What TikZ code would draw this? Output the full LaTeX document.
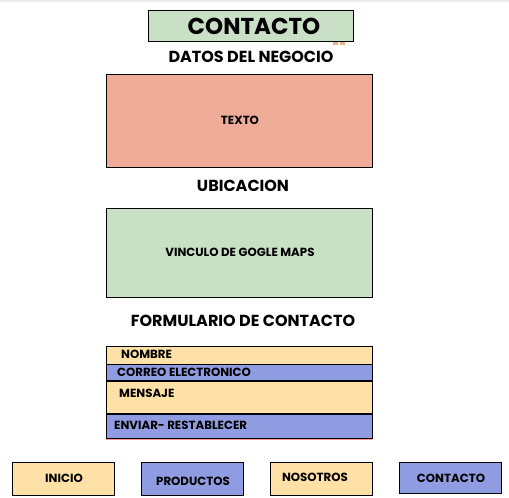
\documentclass[tikz,border=0pt]{standalone}
\usepackage{fontspec}
\setmainfont{Poppins}
\definecolor{cgreen}{HTML}{C9DFC6}
\definecolor{csalmon}{HTML}{EEAB98}
\definecolor{ccream}{HTML}{FFE0A6}
\definecolor{cblue}{HTML}{909CE1}
\definecolor{corange}{HTML}{F0B080}
\tikzset{
  box/.style={draw=black, line width=0.9pt},
  lbl/.style={font=\bfseries\fontsize{11.8}{13}\selectfont, text=black, inner sep=0pt},
  head/.style={font=\bfseries\fontsize{16}{18}\selectfont, text=black, inner sep=0pt},
}
\begin{document}
\begin{tikzpicture}[x=1pt,y=-1pt]
\useasboundingbox[fill=white] (0,0) rectangle (509,498);
\draw[gray!15, line width=1.2pt] (0,1) -- (509,1);
% title
\fill[corange] (333,41) rectangle (338,45);
\fill[corange] (340,41) rectangle (345,45);
\draw[box, fill=cgreen] (148,10) rectangle (353,41);
\node[font=\bfseries\fontsize{23}{25}\selectfont, inner sep=0pt] (title) at (254,26) {CONTACTO};
\node[head] (h1) at (251,57) {DATOS DEL NEGOCIO};
\draw[box, fill=csalmon] (106,74) rectangle (372,167);
\node[lbl] (texto) at (240,120) {TEXTO};
\node[head] (h2) at (243,186) {UBICACION};
\draw[box, fill=cgreen] (106,208) rectangle (372,297);
\node[lbl] (maps) at (240,252) {VINCULO DE GOGLE MAPS};
\node[head] (h3) at (243,321) {FORMULARIO DE CONTACTO};
% form
\draw[red!40, line width=0.8pt] (106,439.5) -- (372,439.5);
\draw[box, fill=ccream] (106,346) rectangle (372,364);
\draw[box, fill=cblue] (106,364) rectangle (372,380.5);
\draw[box, fill=ccream] (106,381) rectangle (372,413.5);
\draw[box, fill=cblue] (106,414) rectangle (372,438.5);
\node[lbl, anchor=west] (nombre) at (121,354) {NOMBRE};
\node[lbl, anchor=west] (correo) at (117,372) {CORREO ELECTRONICO};
\node[lbl, anchor=west] (mensaje) at (119,393) {MENSAJE};
\node[lbl, anchor=west] (enviar) at (114,425) {ENVIAR- RESTABLECER};
% nav
\draw[box, fill=ccream] (12,462) rectangle (114,495);
\node[lbl] (inicio) at (64,478) {INICIO};
\draw[box, fill=cblue] (141,462) rectangle (243,495);
\node[lbl] (productos) at (193,481) {PRODUCTOS};
\draw[box, fill=ccream] (270,462) rectangle (372,495);
\node[lbl] (nosotros) at (315,477) {NOSOTROS};
\draw[box, fill=cblue] (399,462) rectangle (501,493);
\node[lbl] (contacto) at (451,478) {CONTACTO};
\end{tikzpicture}
\end{document}
